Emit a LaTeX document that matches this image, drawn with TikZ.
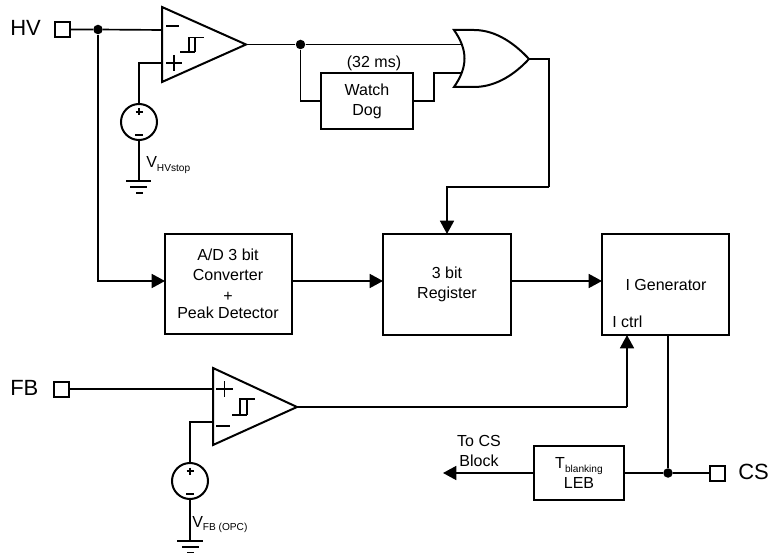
\documentclass[tikz,border=0pt]{standalone}
\usepackage{fontspec}
\setmainfont{Liberation Sans}
\usetikzlibrary{arrows.meta,calc}
\def\px{0.75pt}
\newcommand{\subtxt}[1]{\raisebox{-2.8pt}{\fontsize{7.6pt}{9pt}\selectfont #1}}
\tikzset{
  wire/.style={line width=1.25pt,line join=miter,line cap=butt},
  arrowwire/.style={wire,-{Triangle[length=10pt,width=10.5pt]}},
  blockbox/.style={draw,line width=1.5pt,inner sep=0pt,outer sep=0pt,align=center,font=\fontsize{12pt}{14.4pt}\selectfont},
  pad/.style={draw,line width=1.5pt,minimum width=15*\px,minimum height=15*\px,inner sep=0pt,outer sep=0pt},
  dotj/.style={circle,fill=black,minimum size=9.5*\px,inner sep=0pt},
  pinlabel/.style={font=\fontsize{16.5pt}{19pt}\selectfont,inner sep=0pt},
  plain/.style={font=\fontsize{12pt}{14.4pt}\selectfont,inner sep=0pt,align=center},
  sourcec/.style={circle,draw,line width=1.5pt,minimum size=36*\px,inner sep=0pt,outer sep=0pt},
  sym/.style={line width=1.2pt},
}
\begin{document}
\begin{tikzpicture}[x=0.75pt,y=-0.75pt]
\useasboundingbox (0,0) rectangle (768,556);
% pads
\node[pad] (hv) at (62,29.5) {};
\node[pad] (fb) at (61,389) {};
\node[pad] (cs) at (717,473) {};
\node[pinlabel,anchor=base west] (hvl) at (10,36) {HV};
\node[pinlabel,anchor=base west] (fbl) at (10,395) {FB};
\node[pinlabel,anchor=base west] (csl) at (738,479) {CS};
% comparators
\coordinate (c1tl) at (162,7); \coordinate (c1bl) at (162,82); \coordinate (c1o) at (246,44.5);
\coordinate (c1m) at (162,30); \coordinate (c1p) at (162,63);
\coordinate (c2tl) at (213,368); \coordinate (c2bl) at (213,445); \coordinate (c2o) at (297,407);
\coordinate (c2p) at (213,389); \coordinate (c2m) at (213,422);
\draw[line width=1.5pt,line join=miter] (c1tl) -- (c1o) -- (c1bl) -- cycle;
\draw[line width=1.5pt,line join=miter] (c2tl) -- (c2o) -- (c2bl) -- cycle;
% comparator symbols
\draw[sym] (166,26) -- (179,26);
\draw[sym] (166,63) -- (182,63) (174,55) -- (174,71);
\draw[sym] (180,52) -- (195,52) (189,52) -- (189,37.5) -- (204,37.5) (195,37.5) -- (195,52);
\draw[sym] (216,426) -- (230,426);
\draw[sym] (216,389) -- (233,389) (224.5,381) -- (224.5,397);
\draw[sym] (232,415) -- (247,415) (240,415) -- (240,399) -- (255,399) (247,399) -- (247,415);
% sources
\node[sourcec] (s1) at (139,122) {};
\node[sourcec] (s2) at (190,481) {};
\draw[sym] (135.5,112) -- (142.5,112) (139,108.5) -- (139,115.5);
\draw[sym] (135,135) -- (143,135);
\draw[sym] (186.5,471) -- (193.5,471) (190,467.5) -- (190,474.5);
\draw[sym] (186,494) -- (194,494);
% grounds
\coordinate (g1) at (139,181); \coordinate (g2) at (190,541);
\draw[wire] (126,181) -- (151,181) (130,187) -- (147,187) (136,193) -- (143,193);
\draw[wire] (177,541) -- (203,541) (182,547) -- (199,547) (187,552.5) -- (194,552.5);
\node[plain,anchor=base west] (v1) at (146,168) {V\subtxt{HVstop}};
\node[plain,anchor=base west] (v2) at (192,527) {V\subtxt{FB (OPC)}};
% blocks
\node[blockbox,minimum width=127*\px,minimum height=100*\px] (ad) at (228.5,284) {};
\node[plain] (adl) at (228,284) {A/D 3 bit\\[0.6pt]Converter\\[1.1pt]+\\[-1.4pt]Peak Detector};
\node[blockbox,minimum width=128*\px,minimum height=101*\px] (reg) at (447,284.5) {3 bit\\[0.6pt]Register};
\node[blockbox,minimum width=127*\px,minimum height=101*\px] (gen) at (665.5,284.5) {};
\node[plain] (genl) at (666,284.5) {I Generator};
\node[plain,anchor=base west] (ictrl) at (612,327) {I ctrl};
\node[blockbox,minimum width=92*\px,minimum height=56*\px] (wd) at (367,101) {Watch\\[0.6pt]Dog};
\node[blockbox,minimum width=90*\px,minimum height=54*\px] (leb) at (579,473) {T\subtxt{blanking}\\[0.6pt]LEB};
\node[plain] (ms) at (374,63) {(32 ms)};
\node[plain] (tocs) at (479,450.5) {To CS\\[0.6pt]Block};
% OR gate
\coordinate (ortop) at (454,30); \coordinate (orbot) at (454,87); \coordinate (oro) at (529,59);
\coordinate (ori1) at (461.5,44.5); \coordinate (ori2) at (461.5,73);
\draw[line width=1.5pt,line join=miter] (ortop) .. controls (468,50) and (468,67) .. (orbot)
  -- (474,87) .. controls (497,87) and (516,73) .. (oro)
  .. controls (516,45) and (497,30) .. (474,30) -- cycle;
% junctions
\node[dotj] (j1) at (98,29.5) {};
\node[dotj] (j2) at (300.5,44.5) {};
\node[dotj] (j3) at (668,473) {};
% connectors
\draw[wire] (hv.east) -- (j1) -- (c1m);
\draw[arrowwire] (j1) |- (ad.west |- 0,281);
\draw[wire] (c1p) -| (s1.north);
\draw[wire] (s1.south) -- (g1);
\draw[wire] (c1o) -- (j2) -- (ori1);
\draw[wire] (j2) |- (wd.west);
\coordinate (wdk) at (434,101);
\draw[wire] (wd.east) -- (wdk) |- (ori2);
\coordinate (orc) at (549,187);
\draw[wire] (oro) -| (orc);
\draw[arrowwire] (orc) -| (reg.north);
\draw[arrowwire] (ad.east |- 0,281) -- (reg.west |- 0,281);
\draw[arrowwire] (reg.east |- 0,281) -- (gen.west |- 0,281);
\draw[wire] (fb.east) -- (c2p);
\draw[wire] (c2m) -| (s2.north);
\draw[wire] (s2.south) -- (g2);
\coordinate (gi) at (627,407);
\draw[wire] (c2o) -- (gi);
\draw[arrowwire] (gi) -- (gen.south -| gi);
\draw[wire] (gen.south -| j3) -- (j3);
\draw[wire] (cs.west) -- (j3) -- (leb.east);
\coordinate (toc) at (443,473);
\draw[arrowwire] (leb.west) -- (toc);
\end{tikzpicture}
\end{document}
